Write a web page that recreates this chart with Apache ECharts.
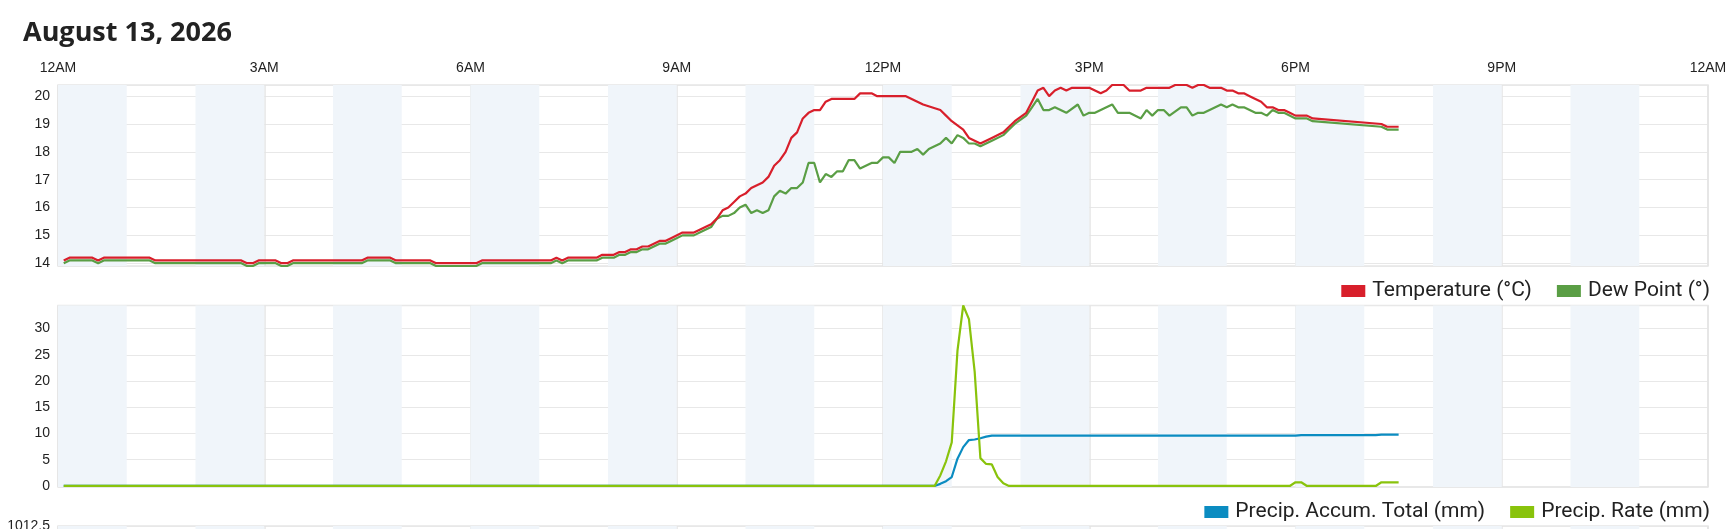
<!DOCTYPE html>
<html><head><meta charset="utf-8">
<script src="https://cdn.jsdelivr.net/npm/echarts@6/dist/echarts.min.js"></script>
<style>html,body{margin:0;padding:0;background:#fff;overflow:hidden}#c{width:1735px;height:529px}</style>
</head><body><div id="c"></div>
<script>
const titleText = 'August 13, 2026';
const xTickLabels = ['12AM','3AM','6AM','9AM','12PM','3PM','6PM','9PM','12AM'];
const shadedHours = [0,2,4,6,8,10,12,14,16,18,20,22];
const seriesNames = ['Temperature (°C)','Dew Point (°)','Precip. Accum. Total (mm)','Precip. Rate (mm)'];
// [minutes after midnight, value]
const temperature = [[5,14.1],[10,14.2],[30,14.2],[35,14.1],[40,14.2],[80,14.2],[85,14.1],[160,14.1],[165,14.0],[170,14.0],[175,14.1],[190,14.1],[195,14.0],[200,14.0],[205,14.1],[265,14.1],[270,14.2],[290,14.2],[295,14.1],[325,14.1],[330,14.0],[365,14.0],[370,14.1],[430,14.1],[435,14.2],[440,14.1],[445,14.2],[470,14.2],[475,14.3],[485,14.3],[490,14.4],[495,14.4],[500,14.5],[505,14.5],[510,14.6],[515,14.6],[525,14.8],[530,14.8],[535,14.9],[545,15.1],[555,15.1],[560,15.2],[570,15.4],[575,15.6],[580,15.9],[585,16.0],[590,16.2],[595,16.4],[600,16.5],[605,16.7],[610,16.8],[615,16.9],[620,17.1],[625,17.5],[630,17.7],[635,18.0],[640,18.5],[645,18.7],[650,19.2],[655,19.4],[660,19.5],[665,19.5],[670,19.8],[675,19.9],[695,19.9],[700,20.1],[710,20.1],[715,20.0],[740,20.0],[755,19.7],[770,19.5],[775,19.3],[780,19.1],[790,18.8],[795,18.5],[805,18.3],[815,18.5],[825,18.7],[830,18.9],[835,19.1],[845,19.4],[850,19.8],[855,20.2],[860,20.3],[865,20.0],[870,20.2],[875,20.3],[880,20.2],[885,20.3],[900,20.3],[910,20.1],[915,20.2],[920,20.4],[930,20.4],[935,20.2],[945,20.2],[950,20.3],[970,20.3],[975,20.4],[985,20.4],[990,20.3],[995,20.4],[1000,20.4],[1005,20.3],[1015,20.3],[1020,20.2],[1025,20.2],[1030,20.1],[1035,20.1],[1040,20.0],[1045,19.9],[1050,19.8],[1055,19.6],[1060,19.6],[1065,19.5],[1070,19.5],[1075,19.4],[1080,19.3],[1090,19.3],[1095,19.2],[1155,19.0],[1160,18.9],[1170,18.9]];
const dewPoint = [[5,14.0],[10,14.1],[30,14.1],[35,14.0],[40,14.1],[80,14.1],[85,14.0],[160,14.0],[165,13.9],[170,13.9],[175,14.0],[190,14.0],[195,13.9],[200,13.9],[205,14.0],[265,14.0],[270,14.1],[290,14.1],[295,14.0],[325,14.0],[330,13.9],[365,13.9],[370,14.0],[430,14.0],[435,14.1],[440,14.0],[445,14.1],[470,14.1],[475,14.2],[485,14.2],[490,14.3],[495,14.3],[500,14.4],[505,14.4],[510,14.5],[515,14.5],[525,14.7],[530,14.7],[535,14.8],[545,15.0],[555,15.0],[560,15.1],[570,15.3],[575,15.6],[580,15.7],[585,15.7],[590,15.8],[595,16.0],[600,16.1],[605,15.8],[610,15.9],[615,15.8],[620,15.9],[625,16.4],[630,16.6],[635,16.5],[640,16.7],[645,16.7],[650,16.9],[655,17.6],[660,17.6],[665,16.9],[670,17.2],[675,17.1],[680,17.3],[685,17.3],[690,17.7],[695,17.7],[700,17.4],[705,17.5],[710,17.6],[715,17.6],[720,17.8],[725,17.8],[730,17.6],[735,18.0],[745,18.0],[750,18.1],[755,17.9],[760,18.1],[765,18.2],[770,18.3],[775,18.5],[780,18.3],[785,18.6],[790,18.5],[795,18.3],[800,18.3],[805,18.2],[815,18.4],[825,18.6],[830,18.8],[835,19.0],[845,19.3],[850,19.6],[855,19.9],[860,19.5],[865,19.5],[870,19.6],[880,19.4],[890,19.7],[895,19.3],[900,19.4],[905,19.4],[920,19.7],[925,19.4],[935,19.4],[945,19.2],[950,19.5],[955,19.3],[960,19.5],[965,19.5],[970,19.3],[980,19.6],[985,19.6],[990,19.3],[995,19.4],[1000,19.4],[1015,19.7],[1020,19.6],[1025,19.7],[1030,19.6],[1035,19.6],[1045,19.4],[1050,19.4],[1055,19.3],[1060,19.5],[1065,19.4],[1070,19.4],[1080,19.2],[1090,19.2],[1095,19.1],[1155,18.9],[1160,18.8],[1170,18.8]];
const precipAccum = [[5,0],[765,0],[770,0.4],[775,0.9],[780,1.7],[785,5.2],[790,7.4],[795,8.75],[800,8.85],[805,9.1],[810,9.4],[815,9.6],[1080,9.6],[1085,9.7],[1150,9.7],[1155,9.8],[1170,9.8]];
const precipRate = [[5,0],[765,0],[770,2.0],[775,4.7],[780,8.3],[785,25.8],[790,34.4],[795,31.8],[800,21.8],[805,5.3],[810,4.2],[815,4.1],[820,1.7],[825,0.5],[830,0],[1075,0],[1080,0.7],[1085,0.7],[1090,0],[1150,0],[1155,0.7],[1170,0.7]];
const tempRange = [13.9, 20.4];
const precipRange = [-0.2, 34.4];
const pressureRange = [1008, 1012.5];

const colors = {temp:'#d81f2b', dew:'#5a9e45', accum:'#0b8cc1', rate:'#89c30c'};
const bandData = shadedHours.map(h => [{xAxis: h*60}, {xAxis: (h+1)*60}]);
const axisFont = 'Liberation Sans, Arial, sans-serif';

const chart = echarts.init(document.getElementById('c'), null, {width:1735, height:529});
const grids = [
  {left:58, right:27, top:85, height:181},
  {left:58, right:27, top:305.5, height:181.5},
  {left:58, right:27, top:526, height:200}
].map(g => Object.assign(g, {show:true, borderColor:'#e6e6e6', borderWidth:1.5, backgroundColor:'transparent'}));

const xAxes = [0,1,2].map(i => ({
  gridIndex:i, type:'value', min:0, max:1440, interval:180, position:'top',
  axisLine:{show:false}, axisTick:{show:false},
  axisLabel:{show:i===0, formatter:v => xTickLabels[Math.round(v/180)], fontSize:14, color:'#222', margin:10, fontFamily:axisFont},
  splitLine:{show:true, lineStyle:{color:'#e4e4e4', width:1.5}}
}));
function yAx(i, range, interval, showMax){
  const a = {gridIndex:i, type:'value', min:range[0], max:range[1],
    axisLine:{show:false}, axisTick:{show:false},
    axisLabel:{fontSize:14, color:'#222', margin:8, fontFamily:axisFont, showMinLabel:false, showMaxLabel:showMax,
      formatter:v => String(v)},
    splitLine:{show:true, lineStyle:{color:'#e8e8e8', width:1}}};
  if (interval) a.interval = interval;
  return a;
}
const yAxes = [yAx(0,tempRange,null,false), yAx(1,precipRange,null,false), yAx(2,pressureRange,0.5,true)];

function line(name, data, color, xi){
  return {name, type:'line', data, xAxisIndex:xi, yAxisIndex:xi, showSymbol:false, symbol:'none',
    lineStyle:{color, width:2.2}, itemStyle:{color}, z:3, silent:true};
}
function bands(xi){
  return {type:'line', data:[], xAxisIndex:xi, yAxisIndex:xi, z:-1, silent:true,
    markArea:{silent:true, itemStyle:{color:'#f0f5fa'}, data:bandData}};
}
const legendBase = {right:20, itemWidth:24, itemHeight:12, itemGap:25, icon:'rect',
  textStyle:{fontFamily:'Roboto, sans-serif', fontSize:21, color:'#222', padding:[0,0,0,2]}};

chart.setOption({
  animation:false,
  title:{text:titleText, left:18, top:15, textStyle:{fontFamily:'Open Sans, sans-serif', fontWeight:700, fontSize:27, color:'#222'}},
  legend:[
    Object.assign({}, legendBase, {top:275.5, data:[seriesNames[0], seriesNames[1]]}),
    Object.assign({}, legendBase, {top:496.5, data:[seriesNames[2], seriesNames[3]]})
  ],
  grid:grids, xAxis:xAxes, yAxis:yAxes,
  series:[
    bands(0), bands(1), bands(2),
    line(seriesNames[1], dewPoint, colors.dew, 0),
    line(seriesNames[0], temperature, colors.temp, 0),
    line(seriesNames[2], precipAccum, colors.accum, 1),
    line(seriesNames[3], precipRate, colors.rate, 1)
  ]
});
</script></body></html>
